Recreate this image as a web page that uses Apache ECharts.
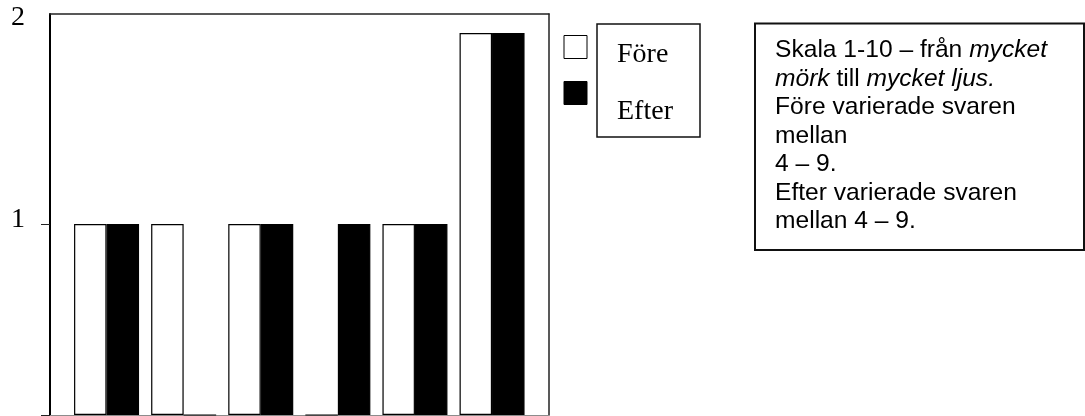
<!DOCTYPE html>
<html>
<head>
<meta charset="utf-8">
<script src="https://cdn.jsdelivr.net/npm/echarts@6/dist/echarts.min.js"></script>
<style>
html,body{margin:0;padding:0;background:#fff;}
#chart{width:1085px;height:416px;}
</style>
</head>
<body>
<div id="chart"></div>
<script>
// ---- data ----
const categories = ['4', '5', '6', '7', '8', '9'];
const foreValues = [1, 1, 1, 0, 1, 2];
const efterValues = [1, 0, 1, 1, 1, 2];
const seriesNames = ['Före', 'Efter'];
const yAxisMax = 2.1;
const yLabelValues = [1, 2.1];
const yLabelTexts = ['1', '2'];
const yTickValues = [0, 1];
const noteLines = [
  [['n', 'Skala 1-10 – från '], ['i', 'mycket']],
  [['i', 'mörk'], ['n', ' till '], ['i', 'mycket ljus.']],
  [['n', 'Före varierade svaren']],
  [['n', 'mellan']],
  [['n', '4 – 9.']],
  [['n', 'Efter varierade svaren']],
  [['n', 'mellan 4 – 9.']]
];

// ---- chart ----
const chart = echarts.init(document.getElementById('chart'), null, {renderer: 'canvas'});
const serif = '"Liberation Serif", "Times New Roman", serif';
const sans = '"Liberation Sans", Arial, sans-serif';
const noteText = noteLines.map(l => l.map(t => '{' + t[0] + '|' + t[1] + '}').join('')).join('\n');

const option = {
  backgroundColor: '#fff',
  animation: false,
  grid: [
    {left: 50, right: 536, top: 14, bottom: 1, containLabel: false},
    {left: 68, right: 554.4, top: 14, bottom: 1, containLabel: false}
  ],
  xAxis: [
    {gridIndex: 0, type: 'value', min: 0, max: 1, position: 'bottom',
     axisLine: {show: true, onZero: false, lineStyle: {color: '#8c8c8c', width: 1}},
     axisTick: {show: false}, axisLabel: {show: false}, splitLine: {show: false}},
    {gridIndex: 0, type: 'value', min: 0, max: 1, position: 'top',
     axisLine: {show: true, onZero: false, lineStyle: {color: '#222', width: 1.5}},
     axisTick: {show: false}, axisLabel: {show: false}, splitLine: {show: false}},
    {gridIndex: 1, type: 'category', data: categories, show: false}
  ],
  yAxis: [
    {gridIndex: 0, type: 'value', min: 0, max: yAxisMax, position: 'left',
     axisLine: {show: true, onZero: false, lineStyle: {color: '#000', width: 2}},
     axisTick: {show: true, customValues: yTickValues, length: 9, lineStyle: {color: '#222', width: 1}},
     axisLabel: {show: true, customValues: yLabelValues, margin: 25,
       formatter: v => {
         const i = yLabelValues.findIndex(x => Math.abs(x - v) < 1e-6);
         if (i < 0) return '';
         return (i === yLabelValues.length - 1 ? '{top|' : '{mid|') + yLabelTexts[i] + '}';
       },
       color: '#000', fontFamily: serif, fontSize: 28,
       rich: {
         mid: {fontFamily: serif, fontSize: 28, color: '#000', padding: [0, 0, 8, 0]},
         top: {fontFamily: serif, fontSize: 28, color: '#000', padding: [8, 0, 0, 0]}
       }},
     splitLine: {show: false}},
    {gridIndex: 0, type: 'value', min: 0, max: yAxisMax, position: 'right',
     axisLine: {show: true, onZero: false, lineStyle: {color: '#222', width: 1.5}},
     axisTick: {show: false}, axisLabel: {show: false}, splitLine: {show: false}},
    {gridIndex: 1, type: 'value', min: 0, max: yAxisMax, show: false}
  ],
  legend: [
    // swatches
    {data: [
       {name: seriesNames[0], icon: 'rect', itemStyle: {color: '#fff', borderColor: '#000', borderWidth: 1}},
       {name: seriesNames[1], icon: 'rect', itemStyle: {color: '#000', borderColor: '#000', borderWidth: 1}}
     ],
     orient: 'vertical', left: 563.5, top: 35, padding: 0, itemWidth: 23, itemHeight: 23, itemGap: 22,
     selectedMode: false, formatter: () => '',
     textStyle: {fontSize: 8, lineHeight: 8}},
    // names
    {data: [{name: seriesNames[0], icon: 'none'}, {name: seriesNames[1], icon: 'none'}],
     orient: 'vertical', left: 612, top: 39.5, padding: 0, itemWidth: 0, itemHeight: 30, itemGap: 27.3,
     selectedMode: false,
     textStyle: {fontFamily: serif, fontSize: 28, color: '#000', lineHeight: 30}}
  ],
  series: [
    {name: seriesNames[0], type: 'bar', xAxisIndex: 2, yAxisIndex: 2, data: foreValues,
     barWidth: 32.5, barGap: '0%',
     itemStyle: {color: '#fff', borderColor: '#000', borderWidth: 1.2}},
    {name: seriesNames[1], type: 'bar', xAxisIndex: 2, yAxisIndex: 2, data: efterValues,
     barWidth: 32.5, barGap: '0%',
     itemStyle: {color: '#000', borderColor: '#000', borderWidth: 1.2}}
  ],
  graphic: [
    {type: 'rect', shape: {x: 597, y: 24, width: 103, height: 113},
     style: {fill: 'none', stroke: '#111', lineWidth: 1.5}, silent: true},
    {type: 'rect', shape: {x: 755, y: 23.5, width: 329, height: 226.5},
     style: {fill: 'none', stroke: '#111', lineWidth: 2}, silent: true},
    {type: 'text', x: 775, y: 36.4, silent: true,
     style: {text: noteText, fill: '#000', verticalAlign: 'top', align: 'left',
       rich: {
         n: {fontFamily: sans, fontSize: 24.6, lineHeight: 28.5, fill: '#000'},
         i: {fontFamily: sans, fontSize: 24.6, lineHeight: 28.5, fontStyle: 'italic', fill: '#000'}
       }}}
  ]
};
chart.setOption(option);
</script>
</body>
</html>
